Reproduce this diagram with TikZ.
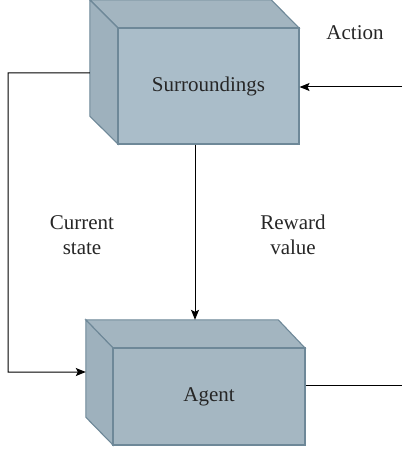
\documentclass[tikz,border=0pt]{standalone}
\usepackage{fontspec}
\setmainfont{Liberation Serif}
\usetikzlibrary{arrows.meta}
\definecolor{edgecol}{HTML}{6E8898}
\definecolor{frontcol}{HTML}{AABDC9}
\definecolor{topcol}{HTML}{A3B5C0}
\definecolor{sidecol}{HTML}{9EB1BD}
\definecolor{afrontcol}{HTML}{A5B7C2}
\tikzset{
  face/.style={draw=edgecol, line width=1.1bp, line join=miter},
  frontface/.style={face, rectangle, inner sep=0pt, font=\fontsize{21bp}{25bp}\selectfont, text=black!85},
  backface/.style={rectangle, inner sep=0pt, draw=none},
  link/.style={line width=1bp, black},
  tip/.style={-{Stealth[length=10bp,width=8bp,inset=2bp]}},
  lbl/.style={font=\fontsize{21bp}{25bp}\selectfont, align=center, text=black!85}
}
\begin{document}
\begin{tikzpicture}[x=1bp,y=-1bp]
\useasboundingbox (0,0) rectangle (402,449);

% Surroundings block: back outline and front face
\node[backface, minimum width=181bp, minimum height=116bp] (Sb) at (180.5,58) {};
\fill[topcol] (Sb.north west) -- (Sb.north east) -- (299,28) -- (118,28) -- cycle;
\draw[face] (Sb.north west) -- (Sb.north east) -- (299,28) -- (118,28) -- cycle;
\fill[sidecol] (Sb.north west) -- (118,28) -- (118,144) -- (Sb.south west) -- cycle;
\draw[face] (Sb.north west) -- (118,28) -- (118,144) -- (Sb.south west) -- cycle;
\node[frontface, fill=frontcol, minimum width=181bp, minimum height=116bp] (S) at (208.5,86) {Surroundings};

% Agent block
\node[backface, minimum width=192bp, minimum height=97bp] (Ab) at (182,368.5) {};
\fill[topcol] (Ab.north west) -- (Ab.north east) -- (305,348) -- (113,348) -- cycle;
\draw[face] (Ab.north west) -- (Ab.north east) -- (305,348) -- (113,348) -- cycle;
\fill[sidecol] (Ab.north west) -- (113,348) -- (113,445) -- (Ab.south west) -- cycle;
\draw[face] (Ab.north west) -- (113,348) -- (113,445) -- (Ab.south west) -- cycle;
\node[frontface, fill=afrontcol, minimum width=192bp, minimum height=97bp] (A) at (209,396.5) {Agent};

% connectors
\coordinate (loopL) at (8,73);
\coordinate (mid) at (195,0);
\coordinate (actIn) at (402,87);
\coordinate (agOut) at (402,385);

\draw[link, tip] ([yshift=-15bp]Sb.west) -- (loopL) |- ([yshift=-3.5bp]Ab.west);
\draw[link, tip] (actIn) -- (S.east |- actIn);
\draw[link, tip] (S.south -| mid) -- (Ab.north -| mid);
\draw[link] (A.east |- agOut) -- (agOut);

% labels
\node[lbl] (act) at (355,33) {Action};
\node[lbl] (cur) at (82,235) {Current\\state};
\node[lbl] (rew) at (293,235) {Reward\\value};
\end{tikzpicture}
\end{document}
